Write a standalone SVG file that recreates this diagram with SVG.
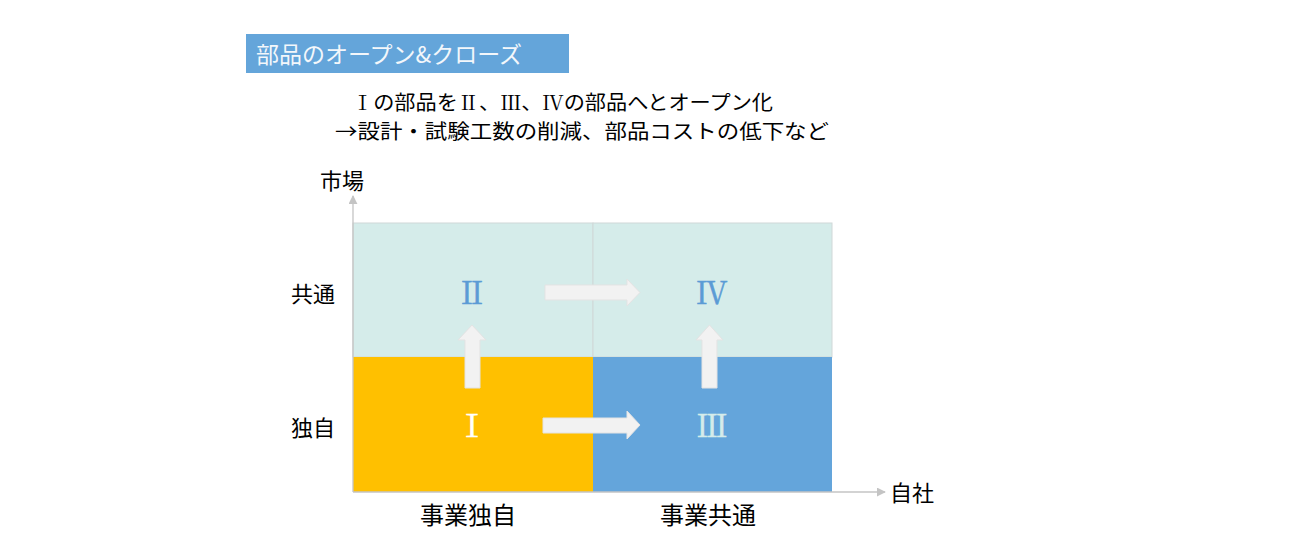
<svg xmlns="http://www.w3.org/2000/svg" width="1299" height="558" viewBox="0 0 1299 558">
<style>
text{font-family:"Noto Sans CJK JP","Noto Sans",sans-serif;}
.lbl{font-size:22px;fill:#000;}
.sub{font-size:20px;fill:#000;}
.ser{font-family:"Liberation Serif","Noto Serif CJK JP","Noto Sans CJK JP",serif;}
.num{font-family:"Liberation Serif","Noto Serif CJK JP","Noto Sans CJK JP",serif;font-size:31px;text-anchor:middle;stroke-width:0.6;}
.blk{fill:#f2f2f2;stroke:#e3e3e3;stroke-width:1;}
.axis{stroke:#c4c4c4;stroke-width:1.3;fill:none;}
</style>
<defs>
<marker id="ah" viewBox="0 0 10 10" refX="9" refY="5" markerWidth="9" markerHeight="9" markerUnits="userSpaceOnUse" orient="auto">
<path d="M0,0 L10,5 L0,10 z" fill="#c4c4c4"/>
</marker>
</defs>
<rect width="1299" height="558" fill="#fff"/>
<g id="title">
<rect x="246" y="34" width="323" height="39" fill="#64a5da"/>
<text x="256" y="63" font-size="23" fill="#f3f7fb">部品のオープン&amp;クローズ</text>
</g>
<g id="subtitle">
<text x="352" y="110" class="sub" textLength="421" lengthAdjust="spacingAndGlyphs"><tspan class="ser">Ⅰ</tspan>の部品を<tspan class="ser">Ⅱ</tspan>、<tspan class="ser">Ⅲ</tspan>、<tspan class="ser">Ⅳ</tspan>の部品へとオープン化</text>
<text x="335" y="139" class="sub" textLength="494" lengthAdjust="spacingAndGlyphs">→設計・試験工数の削減、部品コストの低下など</text>
</g>
<g id="quadrant-II"><rect x="353" y="223" width="240" height="134" fill="#d5ecea" stroke="#d0d8d8" stroke-width="1"/><text x="472" y="304" class="num" fill="#5b9bd5" stroke="#5b9bd5">Ⅱ</text></g>
<g id="quadrant-IV"><rect x="593" y="223" width="239" height="134" fill="#d5ecea" stroke="#d0d8d8" stroke-width="1"/><text x="712" y="304" class="num" fill="#5b9bd5" stroke="#5b9bd5">Ⅳ</text></g>
<g id="quadrant-I"><rect x="353" y="357" width="240" height="135" fill="#ffc000"/><text x="472" y="437" class="num" fill="#ffffff" stroke="#ffffff">Ⅰ</text></g>
<g id="quadrant-III"><rect x="593" y="357" width="239" height="135" fill="#64a5db"/><text x="712" y="437" class="num" fill="#d5ecea" stroke="#d5ecea">Ⅲ</text></g>
<g id="connectors">
<line class="axis" x1="353" y1="492" x2="353" y2="196" marker-end="url(#ah)"/>
<line class="axis" x1="353" y1="492" x2="885" y2="492" marker-end="url(#ah)"/>
<path class="blk" d="M545,285 H627 V279 L640,292.5 L627,306 V300 H545 Z"/>
<path class="blk" d="M543,418 H627 V411 L640,425 L627,439 V433 H543 Z"/>
<path class="blk" d="M465,388 V340 H458 L472,325 L486,340 H480 V388 Z"/>
<path class="blk" d="M702,388 V340 H696 L709.5,325 L723,340 H717 V388 Z"/>
</g>
<g id="axis-labels">
<text x="320" y="189" class="lbl">市場</text>
<text x="890" y="501" class="lbl">自社</text>
<text x="291" y="302" class="lbl">共通</text>
<text x="291" y="436" class="lbl">独自</text>
<text x="468" y="524" font-size="24" text-anchor="middle">事業独自</text>
<text x="708" y="524" font-size="24" text-anchor="middle">事業共通</text>
</g>
</svg>
